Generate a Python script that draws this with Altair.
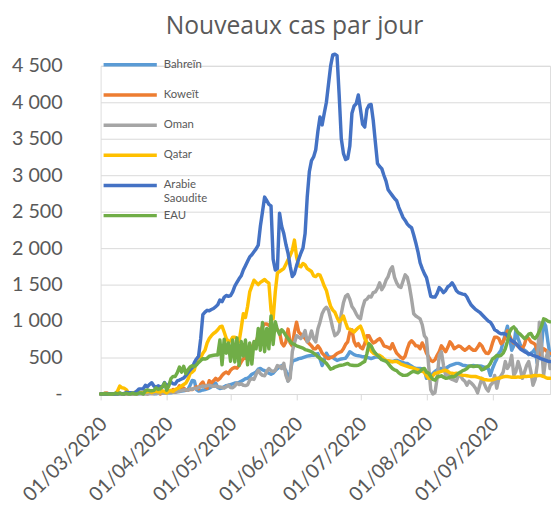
import altair as alt
import pandas as pd

pays = ["Bahreïn", "Koweït", "Oman", "Qatar", "Arabie Saoudite", "EAU"]
couleurs = ["#5B9BD5", "#ED7D31", "#A5A5A5", "#FFC000", "#4472C4", "#70AD47"]

dates = pd.date_range("2020-03-01", periods=212, freq="D").strftime("%Y-%m-%d").tolist()

bahrein = [
    0, 0, 2, 3, 5, 1, 0, 0, 0, 6,
    2, 0, 6, 0, 0, 1, 12, 13, 0, 22,
    5, 15, 9, 5, 12, 6, 3, 10, 9, 14,
    14, 17, 19, 16, 22, 25, 30, 35, 40, 45,
    50, 60, 120, 185, 180, 60, 40, 45, 55, 60,
    70, 80, 100, 140, 150, 90, 75, 80, 100, 115,
    120, 130, 140, 150, 150, 160, 175, 190, 210, 215,
    240, 270, 285, 300, 340, 350, 330, 320, 300, 285,
    270, 285, 320, 350, 370, 390, 360, 320, 180, 300,
    450, 460, 470, 485, 490, 500, 510, 520, 525, 530,
    530, 545, 555, 480, 390, 460, 560, 510, 505, 500,
    480, 460, 470, 480, 485, 490, 530, 580, 560, 540,
    530, 525, 520, 510, 510, 500, 495, 485, 495, 505,
    510, 500, 480, 460, 455, 450, 445, 445, 455, 460,
    450, 440, 430, 420, 420, 400, 380, 360, 350, 350,
    350, 345, 330, 215, 250, 255, 280, 310, 330, 350,
    350, 345, 350, 370, 390, 400, 410, 420, 420, 410,
    395, 390, 385, 380, 385, 390, 385, 380, 385, 380,
    370, 355, 350, 255, 350, 420, 480, 560, 600, 715,
    825, 930, 780, 600, 660, 890, 760, 680, 620, 600,
    580, 540, 560, 580, 620, 420, 660, 640, 985, 930,
    715, 530,
]

koweit = [
    0, 0, 11, 13, 0, 0, 2, 3, 3, 6,
    0, 7, 0, 10, 12, 0, 19, 0, 19, 11,
    28, 12, 0, 13, 6, 13, 10, 17, 0, 20,
    23, 24, 46, 25, 62, 24, 56, 112, 78, 83,
    55, 51, 66, 62, 80, 99, 70, 134, 164, 100,
    80, 183, 152, 180, 215, 190, 213, 253, 284, 300,
    278, 326, 352, 364, 353, 390, 440, 485, 490, 560,
    580, 640, 700, 715, 800, 850, 930, 960, 960, 940,
    930, 900, 920, 880, 850, 700, 660, 715, 890, 700,
    660, 850, 985, 850, 820, 800, 760, 720, 690, 660,
    620, 620, 660, 620, 560, 530, 500, 485, 500, 510,
    530, 555, 570, 580, 620, 680, 715, 850, 880, 720,
    660, 690, 640, 620, 690, 800, 800, 740, 700, 715,
    740, 760, 720, 660, 650, 640, 620, 690, 620, 560,
    530, 500, 485, 520, 620, 700, 730, 700, 660, 660,
    620, 700, 640, 560, 510, 460, 445, 470, 530, 580,
    660, 620, 580, 640, 715, 680, 620, 640, 660, 650,
    620, 600, 620, 650, 620, 600, 600, 640, 690, 660,
    600, 560, 555, 600, 700, 780, 780, 760, 690, 720,
    780, 865, 800, 730, 700, 690, 650, 640, 620, 680,
    780, 760, 715, 700, 680, 600, 530, 560, 620, 600,
    570, 555,
]

oman = [
    0, 0, 0, 0, 0, 0, 0, 0, 0, 0,
    2, 0, 0, 1, 0, 3, 0, 2, 9, 0,
    0, 4, 0, 5, 7, 3, 12, 8, 13, 15,
    13, 18, 20, 28, 24, 26, 35, 40, 45, 55,
    60, 50, 70, 65, 80, 75, 90, 100, 110, 105,
    115, 120, 110, 105, 110, 100, 95, 90, 80, 100,
    120, 90, 85, 110, 150, 130, 140, 120, 115, 125,
    190, 210, 200, 270, 325, 280, 255, 250, 310, 350,
    320, 310, 325, 390, 380, 350, 420, 255, 175, 215,
    580, 700, 800, 780, 760, 800, 870, 715, 760, 865,
    760, 715, 890, 985, 1100, 1160, 1190, 1150, 1030, 900,
    800, 820, 870, 1100, 1250, 1340, 1365, 1300, 1200, 1160,
    1100, 1050, 1030, 1180, 1280, 1300, 1340, 1330, 1390, 1400,
    1450, 1525, 1430, 1480, 1560, 1610, 1700, 1745, 1600, 1525,
    1475, 1460, 1550, 1635, 1600, 1475, 1300, 1100, 1070, 1050,
    1030, 950, 800, 760, 390, 60, 0, 20, 215, 530,
    580, 390, 255, 310, 215, 200, 190, 175, 255, 250,
    200, 175, 120, 175, 150, 120, 80, 15, 120, 215,
    150, 80, 40, 120, 150, 255, 80, 215, 250, 300,
    445, 350, 400, 530, 255, 310, 445, 350, 215, 300,
    390, 445, 310, 120, 200, 400, 985, 660, 255, 485,
    580, 350,
]

qatar = [
    0, 0, 0, 0, 0, 0, 0, 0, 45, 110,
    85, 80, 60, 20, 10, 15, 20, 25, 30, 20,
    15, 25, 30, 40, 20, 35, 40, 30, 25, 45,
    30, 15, 40, 50, 35, 60, 75, 90, 110, 130,
    150, 200, 280, 300, 330, 450, 520, 500, 560, 600,
    700, 760, 800, 830, 850, 880, 920, 930, 850, 760,
    720, 730, 780, 780, 760, 715, 900, 1100, 1050, 1200,
    1400, 1480, 1560, 1530, 1500, 1530, 1550, 1570, 1540, 1520,
    1150, 1030, 1400, 1660, 1680, 1700, 1720, 1780, 1840, 1900,
    1970, 2110, 1880, 1760, 1745, 1790, 1770, 1720, 1700, 1680,
    1620, 1610, 1640, 1630, 1560, 1480, 1420, 1300, 1200, 1150,
    1120, 1050, 990, 1020, 1070, 980, 900, 890, 870, 850,
    880, 910, 930, 860, 760, 715, 650, 590, 560, 545,
    530, 530, 510, 480, 460, 455, 450, 440, 445, 445,
    430, 410, 400, 390, 380, 370, 360, 350, 340, 330,
    320, 310, 300, 250, 215, 215, 250, 285, 290, 300,
    310, 320, 325, 310, 290, 285, 280, 285, 275, 265,
    255, 255, 250, 245, 240, 240, 240, 230, 220, 210,
    200, 195, 190, 190, 195, 205, 215, 215, 225, 235,
    240, 240, 235, 230, 230, 230, 235, 230, 235, 240,
    240, 245, 240, 250, 255, 250, 255, 250, 240, 225,
    215, 215,
]

arabie = [
    0, 0, 1, 0, 3, 2, 0, 1, 4, 5,
    5, 1, 24, 17, 17, 15, 15, 38, 70, 70,
    72, 119, 100, 133, 154, 110, 92, 112, 99, 96,
    157, 110, 131, 165, 140, 138, 180, 191, 205, 220,
    250, 290, 330, 360, 430, 480, 518, 762, 1088, 1122,
    1147, 1141, 1158, 1172, 1197, 1223, 1289, 1266, 1325, 1351,
    1340, 1350, 1400, 1480, 1530, 1580, 1620, 1700, 1760, 1820,
    1880, 1910, 1950, 1990, 2040, 2300, 2500, 2700, 2650, 2600,
    2580, 1850, 1700, 1720, 2480, 2300, 2200, 2050, 1930, 1750,
    1610, 1650, 1760, 1850, 1930, 2000, 2200, 2700, 3050, 3200,
    3250, 3350, 3600, 3800, 3690, 3850, 4000, 4250, 4500, 4650,
    4660, 4640, 4100, 3500, 3300, 3215, 3230, 3400, 3850, 3950,
    3980, 4100, 3900, 3700, 3660, 3900, 3960, 3970, 3750, 3450,
    3160, 3120, 3090, 3000, 2920, 2800, 2760, 2720, 2680, 2650,
    2560, 2490, 2420, 2380, 2330, 2300, 2280, 2180, 2070, 1950,
    1800, 1720, 1650, 1595, 1470, 1340, 1330, 1330, 1380, 1460,
    1430, 1390, 1420, 1470, 1490, 1525, 1480, 1420, 1390, 1380,
    1370, 1365, 1330, 1270, 1220, 1190, 1160, 1140, 1120, 1090,
    1060, 1030, 1000, 985, 940, 880, 865, 840, 825, 830,
    825, 800, 760, 730, 715, 690, 660, 620, 600, 580,
    565, 555, 545, 530, 520, 510, 495, 480, 470, 460,
    450, 445,
]

eau = [
    0, 0, 6, 0, 0, 0, 0, 14, 0, 15,
    0, 0, 11, 0, 0, 12, 0, 0, 13, 15,
    0, 45, 55, 45, 45, 50, 85, 63, 72, 102,
    150, 53, 110, 210, 241, 240, 294, 370, 300, 380,
    277, 331, 370, 387, 376, 398, 432, 460, 484, 479,
    490, 518, 525, 532, 535, 536, 740, 400, 750, 560,
    700, 450, 740, 440, 770, 390, 720, 520, 740, 400,
    700, 410, 720, 620, 900, 600, 980, 580, 900, 620,
    1070, 680, 990, 880, 820, 880, 850, 800, 760, 720,
    690, 680, 660, 650, 640, 630, 610, 600, 590, 580,
    560, 540, 510, 490, 470, 445, 420, 380, 340, 350,
    370, 380, 390, 395, 400, 410, 420, 400, 395, 390,
    390, 395, 410, 430, 445, 550, 690, 660, 600, 560,
    530, 500, 470, 460, 450, 420, 380, 350, 330, 320,
    290, 270, 255, 255, 260, 280, 300, 310, 300, 290,
    310, 340, 350, 300, 285, 240, 200, 190, 230, 240,
    250, 230, 215, 220, 230, 240, 235, 260, 285, 300,
    320, 330, 350, 380, 385, 375, 380, 385, 370, 330,
    340, 370, 380, 420, 480, 500, 530, 520, 530, 560,
    620, 720, 850, 900, 920, 880, 840, 820, 790, 760,
    780, 820, 830, 780, 760, 800, 860, 930, 1030, 1020,
    1000, 990,
]

series = [bahrein, koweit, oman, qatar, arabie, eau]
y_ticks = [0, 500, 1000, 1500, 2000, 2500, 3000, 3500, 4000, 4500]
mois = [3, 4, 5, 6, 7, 8, 9]

rows = []
for nom, vals in zip(pays, series):
    assert len(vals) == len(dates), (nom, len(vals))
    for d, v in zip(dates, vals):
        rows.append({"date": d, "pays": nom, "cas": v})
df = pd.DataFrame(rows)

FONT = "Lato"
GRIS = "#595959"
NBSP = "\u00a0"

x_enc = alt.X(
    "date:T",
    scale=alt.Scale(
        type="utc",
        domain=[alt.DateTime(year=2020, month=3, date=1, utc=True),
                alt.DateTime(year=2020, month=9, date=28, utc=True)],
    ),
    axis=alt.Axis(
        values=[alt.DateTime(year=2020, month=m, date=1, utc=True) for m in mois],
        format="%d/%m/%Y",
        labelAngle=-45,
        labelAlign="right",
        labelBaseline="middle",
        labelFont=FONT,
        labelFontSize=20,
        labelColor=GRIS,
        labelPadding=21,
        labelOffset=3,
        labelOverlap=False,
        grid=False,
        domainColor="#D9D9D9",
        domainWidth=1,
        tickColor="#D9D9D9",
        tickSize=6,
        title=None,
    ),
)

y_enc = alt.Y(
    "cas:Q",
    scale=alt.Scale(domain=[0, 4500], nice=False),
    axis=alt.Axis(
        values=y_ticks,
        labelExpr=f"datum.value == 0 ? '-{NBSP}{NBSP}{NBSP}' : replace(format(datum.value, ','), ',', '{NBSP}')",
        labelFont=FONT,
        labelFontSize=20,
        labelColor=GRIS,
        labelPadding=39,
        tickSize=0,
        domain=False,
        grid=True,
        gridColor="#D9D9D9",
        gridWidth=1,
        title=None,
    ),
)

color_enc = alt.Color(
    "pays:N",
    scale=alt.Scale(domain=pays, range=couleurs),
    legend=alt.Legend(
        orient="none",
        legendX=1,
        legendY=-9,
        title=None,
        symbolType="stroke",
        symbolSize=2916,
        symbolStrokeWidth=3.5,
        clipHeight=16,
        rowPadding=3.6,
        padding=0,
        labelFont=FONT,
        labelFontSize=11.5,
        labelColor=GRIS,
        labelOffset=5,
        labelExpr=f"datum.label == 'Arabie Saoudite' ? ['Arabie', 'Saoudite'] : [datum.label, '{NBSP}']",
    ),
)

base = alt.Chart(df).mark_line(strokeWidth=3.5, strokeJoin="round", strokeCap="round").encode(
    x=x_enc, y=y_enc, color=color_enc
)

layers = [base.transform_filter(alt.datum.pays == nom) for nom in pays]

chart = alt.layer(*layers).properties(
    width=456,
    height=333,
    title=alt.TitleParams(
        "Nouveaux cas par jour",
        font="Open Sans",
        fontSize=25,
        fontWeight="normal",
        color=GRIS,
        anchor="start",
        frame="group",
        dx=66,
        offset=14,
    ),
    autosize=alt.AutoSizeParams(type="none"),
    padding={"left": 94, "top": 55, "right": 1, "bottom": 112},
).configure_view(stroke=None).configure(background="white")

chart.save("out.html", embed_options={"renderer": "svg", "actions": False})
